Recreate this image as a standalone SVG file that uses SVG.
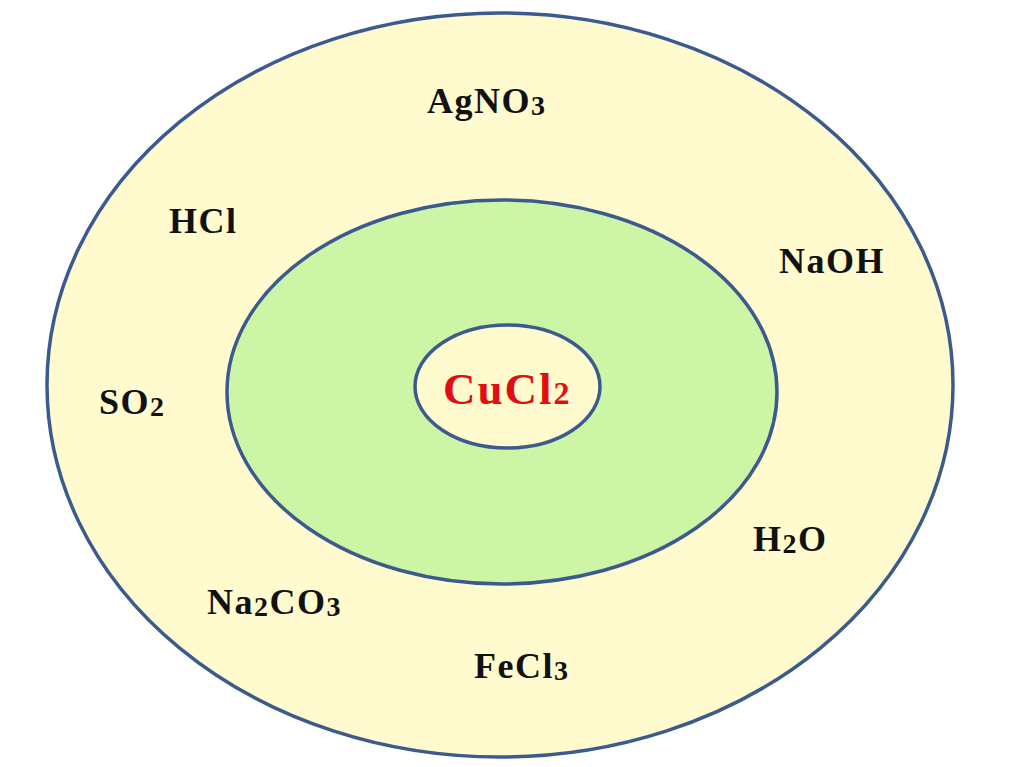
<svg xmlns="http://www.w3.org/2000/svg" width="1024" height="767" viewBox="0 0 1024 767">
<style>
.ring{stroke:#3b5b8e;stroke-width:3.5}
.lbl{font-family:"Liberation Serif","Times New Roman",serif;font-weight:bold;font-size:36px;fill:#111;letter-spacing:1.5px}
.sub{font-size:28px}
.red{fill:#e01010;font-size:45px;letter-spacing:2px}
.redsub{font-size:32px}
</style>
<rect width="1024" height="767" fill="#ffffff"/>
<g id="outer">
<ellipse class="ring" cx="500" cy="385" rx="453" ry="372" fill="#fffbcf"/>
</g>
<g id="middle">
<ellipse class="ring" cx="502" cy="392" rx="275" ry="192" fill="#cdf5a6"/>
</g>
<g id="center">
<ellipse class="ring" cx="507.5" cy="386.5" rx="92.5" ry="61.5" fill="#fffbcf"/>
<text class="lbl red" x="443" y="404">CuCl<tspan class="redsub">2</tspan></text>
</g>
<g id="connectors"></g>
<g id="agno3"><text class="lbl" x="427" y="113">AgNO<tspan class="sub" dy="2">3</tspan></text></g>
<g id="hcl"><text class="lbl" x="169" y="233">HCl</text></g>
<g id="naoh"><text class="lbl" x="779" y="273">NaOH</text></g>
<g id="so2"><text class="lbl" x="99" y="414">SO<tspan class="sub" dy="2">2</tspan></text></g>
<g id="h2o"><text class="lbl" x="753" y="551">H<tspan class="sub" dy="2">2</tspan><tspan dy="-2">O</tspan></text></g>
<g id="na2co3"><text class="lbl" x="207" y="614">Na<tspan class="sub" dy="2">2</tspan><tspan dy="-2">CO</tspan><tspan class="sub" dy="2">3</tspan></text></g>
<g id="fecl3"><text class="lbl" x="474" y="678">FeCl<tspan class="sub" dy="2">3</tspan></text></g>
</svg>
